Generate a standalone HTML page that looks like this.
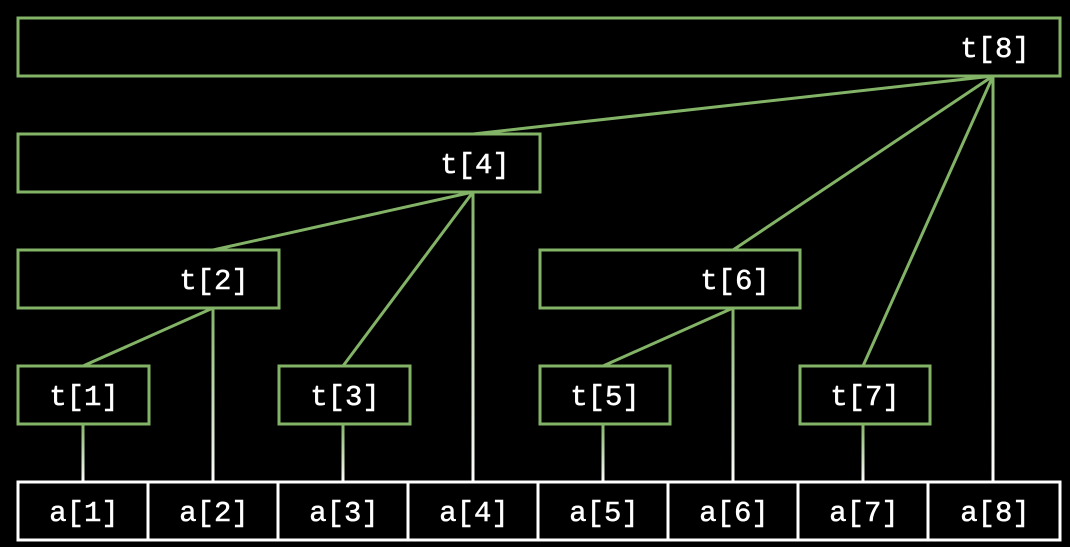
<!DOCTYPE html>
<html><head><style>
html,body{margin:0;padding:0;background:#000;}
svg{display:block;}
text{font-family:"Liberation Mono",monospace;font-size:29px;fill:#fff;stroke:#fff;stroke-width:0.5px;}
</style></head><body>
<svg width="1070" height="547" viewBox="0 0 1070 547">
<defs>
<linearGradient id="g1" gradientUnits="userSpaceOnUse" x1="0" y1="424" x2="0" y2="482"><stop offset="0" stop-color="#82b366"/><stop offset="1" stop-color="#fff"/></linearGradient>
<linearGradient id="g2" gradientUnits="userSpaceOnUse" x1="0" y1="308" x2="0" y2="482"><stop offset="0" stop-color="#82b366"/><stop offset="1" stop-color="#fff"/></linearGradient>
<linearGradient id="g4" gradientUnits="userSpaceOnUse" x1="0" y1="192" x2="0" y2="482"><stop offset="0" stop-color="#82b366"/><stop offset="1" stop-color="#fff"/></linearGradient>
<linearGradient id="g8" gradientUnits="userSpaceOnUse" x1="0" y1="76" x2="0" y2="482"><stop offset="0" stop-color="#82b366"/><stop offset="1" stop-color="#fff"/></linearGradient>
</defs>
<g stroke="#82b366" stroke-width="3" fill="none">
<line x1="993" y1="76" x2="473" y2="134"/>
<line x1="993" y1="76" x2="733" y2="250"/>
<line x1="993" y1="76" x2="863" y2="366"/>
<line x1="473" y1="192" x2="213" y2="250"/>
<line x1="473" y1="192" x2="343" y2="366"/>
<line x1="213" y1="308" x2="83" y2="366"/>
<line x1="733" y1="308" x2="603" y2="366"/>
</g>
<g stroke-width="3">
<line x1="83" y1="424" x2="83" y2="482" stroke="url(#g1)"/>
<line x1="343" y1="424" x2="343" y2="482" stroke="url(#g1)"/>
<line x1="603" y1="424" x2="603" y2="482" stroke="url(#g1)"/>
<line x1="863" y1="424" x2="863" y2="482" stroke="url(#g1)"/>
<line x1="213" y1="308" x2="213" y2="482" stroke="url(#g2)"/>
<line x1="733" y1="308" x2="733" y2="482" stroke="url(#g2)"/>
<line x1="473" y1="192" x2="473" y2="482" stroke="url(#g4)"/>
<line x1="993" y1="76" x2="993" y2="482" stroke="url(#g8)"/>
</g>
<g stroke="#82b366" stroke-width="3" fill="#000">
<rect x="18" y="18" width="1042" height="58"/>
<rect x="18" y="134" width="522" height="58"/>
<rect x="18" y="250" width="261" height="58"/>
<rect x="540" y="250" width="260" height="58"/>
<rect x="18" y="366" width="131" height="58"/>
<rect x="279" y="366" width="131" height="58"/>
<rect x="540" y="366" width="130" height="58"/>
<rect x="800" y="366" width="130" height="58"/>
</g>
<g stroke="#fff" stroke-width="3" fill="#000">
<rect x="18" y="482" width="130" height="58"/>
<rect x="148" y="482" width="130" height="58"/>
<rect x="278" y="482" width="130" height="58"/>
<rect x="408" y="482" width="130" height="58"/>
<rect x="538" y="482" width="130" height="58"/>
<rect x="668" y="482" width="130" height="58"/>
<rect x="798" y="482" width="130" height="58"/>
<rect x="928" y="482" width="132" height="58"/>
</g>
<g text-anchor="middle">
<text x="995" y="57">t[8]</text>
<text x="475" y="173">t[4]</text>
<text x="214" y="289">t[2]</text>
<text x="735" y="289">t[6]</text>
<text x="84" y="405">t[1]</text>
<text x="345" y="405">t[3]</text>
<text x="605" y="405">t[5]</text>
<text x="865" y="405">t[7]</text>
<text x="84" y="521">a[1]</text>
<text x="214" y="521">a[2]</text>
<text x="344" y="521">a[3]</text>
<text x="474" y="521">a[4]</text>
<text x="604" y="521">a[5]</text>
<text x="734" y="521">a[6]</text>
<text x="864" y="521">a[7]</text>
<text x="995" y="521">a[8]</text>
</g>
</svg>
</body></html>
